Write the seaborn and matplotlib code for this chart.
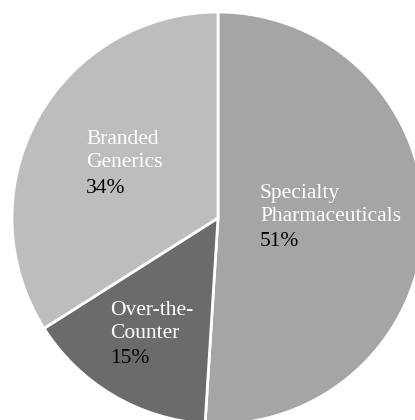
import matplotlib
matplotlib.use("Agg")
import matplotlib.pyplot as plt
import seaborn as sns

categories = ["Specialty\nPharmaceuticals", "Over-the-\nCounter", "Branded\nGenerics"]
shares = [51, 15, 34]
colors = ["#a5a5a5", "#6b6b6b", "#bdbdbd"]

sns.set_theme(style="white")
plt.rcParams["font.family"] = ["Liberation Serif", "DejaVu Serif"]

fig = plt.figure(figsize=(4.15, 4.2), dpi=100)
ax = fig.add_axes([0, 0, 1, 1])
wedges, _ = ax.pie(shares, colors=colors, startangle=90, counterclock=False,
                   wedgeprops=dict(edgecolor="white", linewidth=2))
ax.set_aspect("auto")
ax.set_xlim(-218 / 206, (415 - 218) / 206)
ax.set_ylim(-(420 - 218) / 206, 218 / 206)
ax.axis("off")

# label anchors (left edge, first-line center) in data units
anchors = [(0.204, 0.121), (-0.524, -0.447), (-0.641, 0.379)]
step = 0.112
for (x, y), name, val in zip(anchors, categories, shares):
    lines = name.split("\n")
    for i, ln in enumerate(lines):
        ax.text(x, y - i * step, ln, color="white", fontsize=15.5, ha="left", va="center")
    ax.text(x, y - len(lines) * step - 0.01, f"{val}%", color="black", fontsize=15.5,
            ha="left", va="center")

fig.savefig("out.png", dpi=100)
